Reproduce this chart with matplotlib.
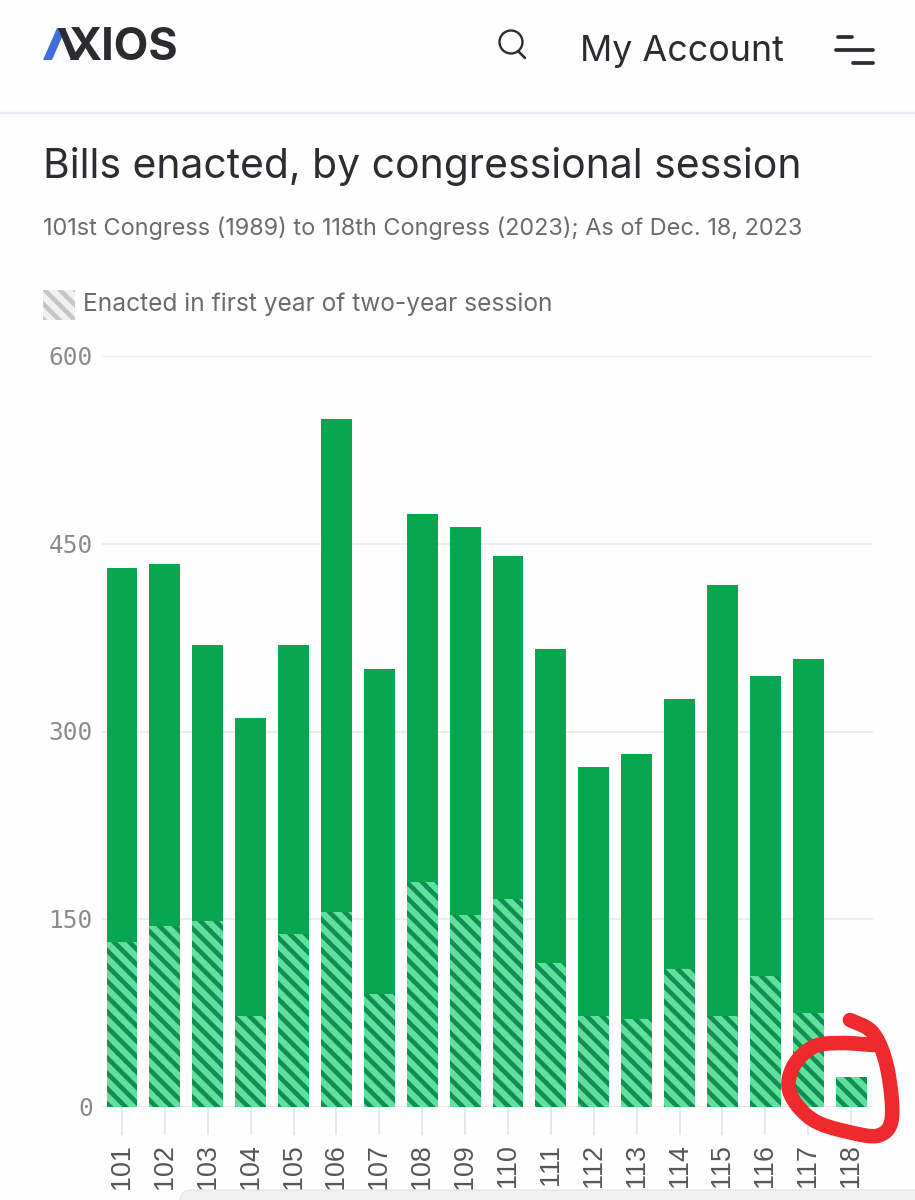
import numpy as np
import matplotlib
matplotlib.use("Agg")
import matplotlib.pyplot as plt
from matplotlib.patches import Rectangle, Polygon, Circle, FancyBboxPatch
from matplotlib.transforms import ScaledTranslation

sessions = [str(n) for n in range(101, 119)]
total_bills = [431, 434, 369, 311, 369, 550, 350, 474, 463, 440, 366, 272, 282, 326, 417, 344, 358, 24]
first_year = [132, 145, 149, 73, 138, 156, 90, 180, 153, 166, 115, 73, 70, 110, 73, 105, 75, 24]
y_ticks = [0, 150, 300, 450, 600]

W, H = 915, 1200
DPI = 92


def pt(v):
    return v * 84 / DPI


GREEN = "#07a64f"
HATCH_BG = "#5fe09c"
HATCH_FG = "#0f8f52"
plt.rcParams["hatch.linewidth"] = 3.6

fig = plt.figure(figsize=(W / DPI, H / DPI), dpi=DPI, facecolor="#fefefe")

# chart axes
L, R, T, B = 102, 873, 356, 1107
ax = fig.add_axes([L / W, 1 - B / H, (R - L) / W, (B - T) / H])
ax.set_facecolor("none")
x = np.arange(len(sessions))
ax.set_xlim(-0.466, 17.51)
ax.set_ylim(0, 600)
ax.bar(x, total_bills, width=0.72, color=GREEN, linewidth=0, zorder=2)
ax.bar(x, first_year, width=0.72, facecolor=HATCH_BG, edgecolor=HATCH_FG, hatch="\\\\", linewidth=0, zorder=3)
ax.set_yticks(y_ticks)
ax.set_yticklabels([str(v) for v in y_ticks], family="DejaVu Sans Mono", fontsize=pt(21), color="#8b8b8b")
ax.set_xticks(x)
ax.set_xticklabels(sessions, rotation=90, family="Liberation Sans", fontsize=pt(23), color="#55565a")
ax.tick_params(axis="y", length=0, pad=pt(8))
ax.tick_params(axis="x", length=pt(24), width=pt(1.5), color="#e4e5e8", pad=pt(8))
ax.grid(axis="y", color="#e6e8ee", linewidth=pt(1.4), zorder=0)
ax.set_axisbelow(True)
for s in ax.spines.values():
    s.set_visible(False)
shift = ScaledTranslation(0, -2 / DPI, fig.dpi_scale_trans)
for lab in ax.get_yticklabels():
    lab.set_verticalalignment("center")
    lab.set_transform(lab.get_transform() + shift)

# overlay in pixel coordinates: page chrome, titles, hand-drawn annotation
ov = fig.add_axes([0, 0, 1, 1], zorder=10)
ov.set_xlim(0, W)
ov.set_ylim(H, 0)
ov.axis("off")
ov.patch.set_alpha(0)

DARK = "#2a2c30"
# logo
ov.add_patch(Polygon([[43, 60], [57, 28], [66, 28], [52, 60]], closed=True, color="#3f6fd8", lw=0))
ov.add_patch(Polygon([[58, 28], [65, 28], [79, 60], [71, 60]], closed=True, color=DARK, lw=0))
ov.text(69, 47.5, "XIOS", family="Inter", weight="bold", fontsize=pt(38.5), color=DARK, va="center", ha="left")
# search icon
ov.add_patch(Circle((511, 42), 11.5, fill=False, ec=DARK, lw=pt(2)))
ov.plot([518, 525], [51, 58], color=DARK, lw=pt(2.2), solid_capstyle="round")
ov.text(580, 52, "My Account", family="Inter", fontsize=pt(30.7), color=DARK, va="center", ha="left")
# menu icon
for x0, x1, yy in [(838, 852, 37), (836, 873, 50), (853, 873, 63)]:
    ov.plot([x0, x1], [yy, yy], color=DARK, lw=pt(3.2), solid_capstyle="round")
# divider
ov.plot([0, W], [113, 113], color="#e9ebf0", lw=pt(2))

ov.text(43, 166, "Bills enacted, by congressional session", family="Inter", fontsize=pt(35),
        color="#2b2d31", va="center", ha="left")
ov.text(43, 228, "101st Congress (1989) to 118th Congress (2023); As of Dec. 18, 2023", family="Inter",
        fontsize=pt(20.1), color="#6a6b70", va="center", ha="left")
ov.add_patch(Rectangle((43, 290), 32, 30, facecolor="#f1f1f1", edgecolor="#c6c6c6", hatch="\\\\", lw=0))
ov.text(83, 304, "Enacted in first year of two-year session", family="Inter", fontsize=pt(21),
        color="#6a6b70", va="center", ha="left")

# hand-drawn red circle
pts = np.array([[850, 1020], [873, 1033], [887, 1067], [892, 1117], [880, 1135], [853, 1133],
                [813, 1120], [790, 1093], [793, 1067], [813, 1047], [840, 1043], [873, 1045]], float)
p = np.vstack([pts[0], pts, pts[-1]])
curve = []
for i in range(1, len(p) - 2):
    t = np.linspace(0, 1, 24)[:, None]
    a, b, c, d = p[i - 1], p[i], p[i + 1], p[i + 2]
    curve.append(0.5 * (2 * b + (c - a) * t + (2 * a - 5 * b + 4 * c - d) * t**2 + (3 * b - a - 3 * c + d) * t**3))
curve = np.vstack(curve)
ov.plot(curve[:, 0], curve[:, 1], color="#ee2a2e", lw=pt(12.5), solid_capstyle="round", solid_joinstyle="round")

# bottom browser edge
ov.add_patch(FancyBboxPatch((180, 1190), 900, 30, boxstyle="round,pad=0,rounding_size=12",
                            facecolor="#f1f1f2", edgecolor="#e2e2e4", lw=pt(1)))
ov.set_xlim(0, W)
ov.set_ylim(H, 0)

fig.savefig("out.png", dpi=DPI, facecolor=fig.get_facecolor())
